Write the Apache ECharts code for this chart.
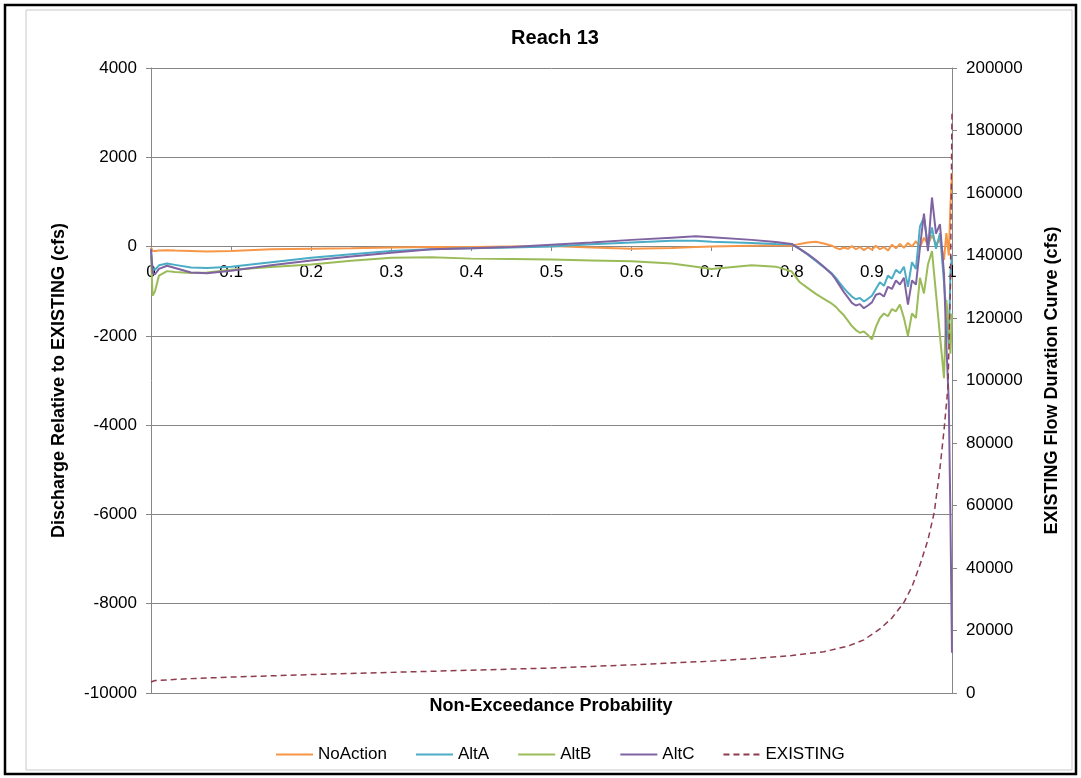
<!DOCTYPE html>
<html>
<head>
<meta charset="utf-8">
<script src="https://cdn.jsdelivr.net/npm/echarts@6/dist/echarts.min.js"></script>
<style>
html,body{margin:0;padding:0;background:#fff;}
#chart{width:1081px;height:778px;}
</style>
</head>
<body>
<div id="chart"></div>
<script>
// Non-exceedance probabilities for the difference series
var probs = [0, 0.002, 0.005, 0.01, 0.02, 0.03, 0.05, 0.07, 0.1, 0.15, 0.2, 0.25, 0.3, 0.35, 0.4, 0.45, 0.5, 0.55, 0.6, 0.65,
  0.68, 0.7, 0.75, 0.78, 0.8, 0.81, 0.82, 0.83, 0.84, 0.85,
  0.855, 0.86, 0.865, 0.87, 0.875, 0.88, 0.885, 0.89, 0.895, 0.9,
  0.905, 0.91, 0.915, 0.92, 0.925, 0.93, 0.935, 0.94, 0.945, 0.95,
  0.955, 0.96, 0.965, 0.97, 0.975, 0.98, 0.985, 0.99, 0.993, 0.996, 0.998, 1.0];

var noAction = [-20, -100, -100, -90, -80, -90, -100, -110, -100, -60, -50, -40, -20, -10, -10, 0, 10, -20, -50, -30,
  -10, 0, 20, 30, 20, 60, 90, 110, 70, 20,
  -30, -60, -20, -50, 10, -60, -10, -80, -20, -70,
  20, -60, -10, -90, 40, -40, 60, -30, 80, 0,
  120, -20, 200, 40, 250, 60, 150, -300, 300, -200, 900, 1650];

var altA = [-100, -500, -520, -420, -380, -410, -470, -480, -450, -350, -250, -170, -100, -60, -40, -20, 0, 50, 90, 130,
  130, 110, 80, 60, 50, -60, -180, -320, -460, -600,
  -700, -820, -930, -1030, -1120, -1180, -1150, -1230, -1170, -1100,
  -950, -800, -880, -650, -720, -520, -600, -450, -900, -350,
  -500, 450, 650, 0, 430, -50, 300, -800, -1500, -2200, -600, -200];

var altB = [-200, -1100, -1000, -650, -550, -570, -590, -580, -520, -460, -400, -320, -250, -240, -270, -280, -290, -310, -330, -380,
  -450, -500, -420, -450, -560, -800, -930, -1060, -1170, -1280,
  -1350, -1450, -1540, -1660, -1780, -1870, -1930, -1900, -1980, -2080,
  -1800, -1600, -1500, -1560, -1400, -1450, -1300, -1600, -2000, -1500,
  -1600, -700, -1050, -400, -100, -1050, -2000, -2950, -1200, -1800, -2400, -1500];

var altC = [-50, -600, -620, -500, -430, -480, -580, -600, -540, -420, -310, -220, -140, -60, -40, -10, 40, 90, 150, 200,
  230, 210, 150, 100, 60, -50, -170, -300, -450, -620,
  -740, -880, -1020, -1140, -1260, -1320, -1290, -1380, -1320, -1250,
  -1080, -1050, -1120, -900, -950, -760, -850, -700, -1300, -760,
  -850, -20, 740, -100, 1100, 290, 500, -600, -2200, -3500, -6000, -9100];

// EXISTING flow duration curve (right axis)
var existProbs = [0, 0.005, 0.05, 0.1, 0.2, 0.3, 0.4, 0.5, 0.6, 0.7, 0.75, 0.8, 0.84, 0.87, 0.89, 0.91, 0.925, 0.94,
  0.95, 0.96, 0.97, 0.978, 0.985, 0.99, 0.995, 0.998, 1.0];
var existing = [3500, 4000, 4600, 5100, 5900, 6600, 7300, 8000, 9000, 10200, 11000, 12000, 13200, 15000, 17000, 20500, 24000, 29000,
  34000, 41000, 49000, 58000, 72000, 84000, 98000, 130000, 186000];

var xTicks = ['0', '0.1', '0.2', '0.3', '0.4', '0.5', '0.6', '0.7', '0.8', '0.9', '1'];
var seriesNames = ['NoAction', 'AltA', 'AltB', 'AltC', 'EXISTING'];

function pairs(xs, ys) { return xs.map(function (x, i) { return [x, ys[i]]; }); }

var FONT = '"Liberation Sans", Arial, sans-serif';
var AX = '#868686';
var plain = function (v) { return String(v); };

var chart = echarts.init(document.getElementById('chart'), null, { renderer: 'canvas' });
var option = {
  backgroundColor: '#ffffff',
  animation: false,
  textStyle: { fontFamily: FONT },
  title: {
    text: 'Reach 13', left: 550, top: 23, textAlign: 'center',
    textStyle: { fontFamily: FONT, fontSize: 20, fontWeight: 'bold', color: '#000' }
  },
  legend: {
    data: seriesNames, left: 270, top: 741, itemWidth: 37, itemHeight: 14, itemGap: 28,
    itemStyle: { opacity: 0 },
    textStyle: { fontFamily: FONT, fontSize: 17, color: '#000' }
  },
  grid: { left: 151, right: 129, top: 68, bottom: 85 },
  xAxis: {
    type: 'value', min: 0, max: 1, interval: 0.1, position: 'bottom', offset: -447,
    axisLine: { onZero: false, lineStyle: { color: AX, width: 1 } },
    axisTick: { show: true, inside: false, length: 5, lineStyle: { color: AX } },
    splitLine: { show: false },
    axisLabel: {
      margin: 18, fontSize: 17, color: '#000', fontFamily: FONT,
      formatter: function (v) { return xTicks[Math.round(v * 10)]; }
    }
  },
  yAxis: [{
    type: 'value', min: -10000, max: 4000, interval: 2000, position: 'left',
    name: 'Discharge Relative to EXISTING (cfs)', nameLocation: 'middle', nameRotate: 90, nameGap: 83,
    nameTextStyle: { fontFamily: FONT, fontSize: 18, fontWeight: 'bold', color: '#000' },
    axisLine: { show: true, onZero: false, lineStyle: { color: AX } },
    axisTick: { show: true, length: 5, lineStyle: { color: AX } },
    splitLine: { show: true, lineStyle: { color: AX, width: 1 } },
    axisLabel: { margin: 14, fontSize: 17, color: '#000', fontFamily: FONT, formatter: plain }
  }, {
    type: 'value', min: 0, max: 200000, interval: 20000, position: 'right',
    name: 'EXISTING Flow Duration Curve (cfs)', nameLocation: 'middle', nameRotate: 90, nameGap: 91,
    nameTextStyle: { fontFamily: FONT, fontSize: 18, fontWeight: 'bold', color: '#000' },
    axisLine: { show: true, onZero: false, lineStyle: { color: AX } },
    axisTick: { show: true, length: 5, lineStyle: { color: AX } },
    splitLine: { show: false },
    axisLabel: { margin: 14, fontSize: 17, color: '#000', fontFamily: FONT, formatter: plain }
  }],
  graphic: [
    { type: 'rect', shape: { x: 26, y: 10, width: 1046, height: 760 }, style: { fill: 'none', stroke: '#C8C8C8', lineWidth: 1 }, silent: true, z: 0 },
    { type: 'rect', shape: { x: 5, y: 5, width: 1071, height: 769 }, style: { fill: 'none', stroke: '#000', lineWidth: 2.5 }, silent: true },
    { type: 'text', style: { text: 'Non-Exceedance Probability', x: 551, y: 706, textAlign: 'center', textVerticalAlign: 'middle', font: 'bold 18px "Liberation Sans", Arial, sans-serif', fill: '#000' } }
  ],
  series: [
    { name: 'NoAction', type: 'line', yAxisIndex: 0, showSymbol: false, symbol: 'none', data: pairs(probs, noAction), lineStyle: { color: '#F79646', width: 2 }, itemStyle: { color: '#F79646' } },
    { name: 'AltA', type: 'line', yAxisIndex: 0, showSymbol: false, symbol: 'none', data: pairs(probs, altA), lineStyle: { color: '#4BACC6', width: 2 }, itemStyle: { color: '#4BACC6' } },
    { name: 'AltB', type: 'line', yAxisIndex: 0, showSymbol: false, symbol: 'none', data: pairs(probs, altB), lineStyle: { color: '#9BBB59', width: 2 }, itemStyle: { color: '#9BBB59' } },
    { name: 'AltC', type: 'line', yAxisIndex: 0, showSymbol: false, symbol: 'none', data: pairs(probs, altC), lineStyle: { color: '#8064A2', width: 2 }, itemStyle: { color: '#8064A2' } },
    { name: 'EXISTING', type: 'line', yAxisIndex: 1, showSymbol: false, symbol: 'none', data: pairs(existProbs, existing), lineStyle: { color: '#8E3B4E', width: 1.5, type: [6, 4] }, itemStyle: { color: '#8E3B4E' } }
  ]
};
chart.setOption(option);
</script>
</body>
</html>
